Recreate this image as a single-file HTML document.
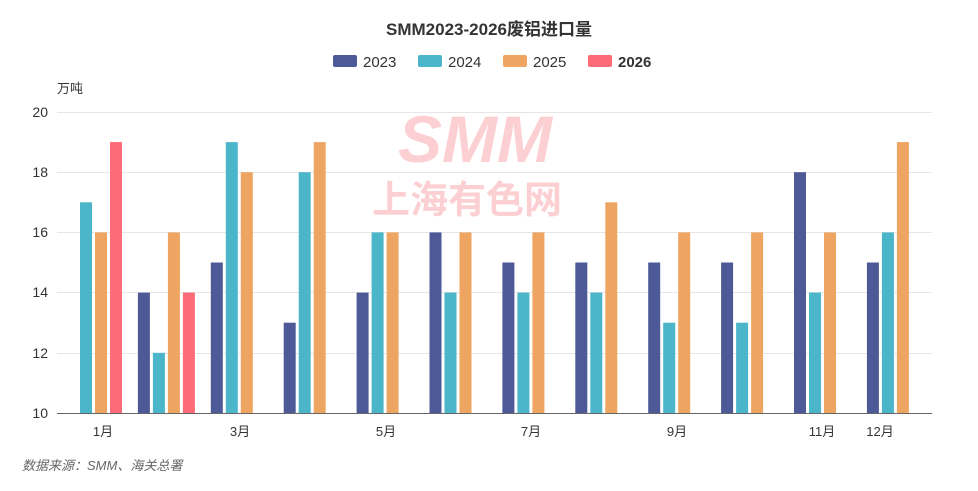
<!DOCTYPE html>
<html><head><meta charset="utf-8"><style>
body{margin:0;background:#fff;}
svg text{font-family:"Liberation Sans","Noto Sans CJK SC",sans-serif;}
</style></head><body>
<svg width="978" height="486" viewBox="0 0 978 486" xmlns="http://www.w3.org/2000/svg">
<rect width="978" height="486" fill="#fff"/>
<text x="489" y="35" text-anchor="middle" font-size="17" font-weight="bold" fill="#333">SMM2023-2026废铝进口量</text>
<g font-size="15" fill="#333">
<rect x="333" y="55" width="24" height="12" rx="2" fill="#4e5a97"/><text x="363" y="67">2023</text>
<rect x="418" y="55" width="24" height="12" rx="2" fill="#4bb6c9"/><text x="448" y="67">2024</text>
<rect x="503" y="55" width="24" height="12" rx="2" fill="#eea562"/><text x="533" y="67">2025</text>
<rect x="588" y="55" width="24" height="12" rx="2" fill="#fd6b78"/><text x="618" y="67" font-weight="bold">2026</text>
</g>
<text x="57" y="93" font-size="13" fill="#333">万吨</text>
<g stroke="#e6e6e6" stroke-width="1">
<line x1="57" x2="932" y1="112.5" y2="112.5"/><line x1="57" x2="932" y1="172.5" y2="172.5"/>
<line x1="57" x2="932" y1="232.5" y2="232.5"/><line x1="57" x2="932" y1="292.5" y2="292.5"/>
<line x1="57" x2="932" y1="353.5" y2="353.5"/>
</g>
<g font-size="14" fill="#333" text-anchor="end">
<text x="48" y="117">20</text><text x="48" y="177">18</text><text x="48" y="237">16</text>
<text x="48" y="297">14</text><text x="48" y="358">12</text><text x="48" y="418">10</text>
</g>
<g fill="#fcc8cc" opacity="0.85">
<text x="475" y="162" font-size="66" font-weight="bold" font-style="italic" text-anchor="middle" font-family="Liberation Serif,serif">SMM</text>
<text x="467" y="213" font-size="38" font-weight="bold" text-anchor="middle">上海有色网</text>
</g>
<g fill="#4e5a97">
<rect x="137.9" y="292.6" width="12" height="120.4"/>
<rect x="210.8" y="262.5" width="12" height="150.5"/>
<rect x="283.7" y="322.7" width="12" height="90.3"/>
<rect x="356.6" y="292.6" width="12" height="120.4"/>
<rect x="429.5" y="232.4" width="12" height="180.6"/>
<rect x="502.4" y="262.5" width="12" height="150.5"/>
<rect x="575.3" y="262.5" width="12" height="150.5"/>
<rect x="648.2" y="262.5" width="12" height="150.5"/>
<rect x="721.1" y="262.5" width="12" height="150.5"/>
<rect x="794" y="172.2" width="12" height="240.8"/>
<rect x="866.9" y="262.5" width="12" height="150.5"/>
</g>
<g fill="#4bb6c9">
<rect x="80" y="202.3" width="12" height="210.7"/>
<rect x="152.9" y="352.8" width="12" height="60.2"/>
<rect x="225.8" y="142.1" width="12" height="270.9"/>
<rect x="298.7" y="172.2" width="12" height="240.8"/>
<rect x="371.6" y="232.4" width="12" height="180.6"/>
<rect x="444.5" y="292.6" width="12" height="120.4"/>
<rect x="517.4" y="292.6" width="12" height="120.4"/>
<rect x="590.3" y="292.6" width="12" height="120.4"/>
<rect x="663.2" y="322.7" width="12" height="90.3"/>
<rect x="736.1" y="322.7" width="12" height="90.3"/>
<rect x="809" y="292.6" width="12" height="120.4"/>
<rect x="881.9" y="232.4" width="12" height="180.6"/>
</g>
<g fill="#eea562">
<rect x="95" y="232.4" width="12" height="180.6"/>
<rect x="167.9" y="232.4" width="12" height="180.6"/>
<rect x="240.8" y="172.2" width="12" height="240.8"/>
<rect x="313.7" y="142.1" width="12" height="270.9"/>
<rect x="386.6" y="232.4" width="12" height="180.6"/>
<rect x="459.5" y="232.4" width="12" height="180.6"/>
<rect x="532.4" y="232.4" width="12" height="180.6"/>
<rect x="605.3" y="202.3" width="12" height="210.7"/>
<rect x="678.2" y="232.4" width="12" height="180.6"/>
<rect x="751.1" y="232.4" width="12" height="180.6"/>
<rect x="824" y="232.4" width="12" height="180.6"/>
<rect x="896.9" y="142.1" width="12" height="270.9"/>
</g>
<g fill="#fd6b78">
<rect x="110" y="142.1" width="12" height="270.9"/>
<rect x="182.9" y="292.6" width="12" height="120.4"/>
</g>
<line x1="57" x2="932" y1="413.5" y2="413.5" stroke="#666"/>
<g font-size="13" fill="#333" text-anchor="middle">
<text x="103" y="436">1月</text><text x="240" y="436">3月</text><text x="386" y="436">5月</text>
<text x="531" y="436">7月</text><text x="677" y="436">9月</text><text x="822" y="436">11月</text><text x="880" y="436">12月</text>
</g>
<text x="22" y="470" font-size="13" fill="#666" font-style="italic">数据来源：SMM、海关总署</text>
</svg>
</body></html>
